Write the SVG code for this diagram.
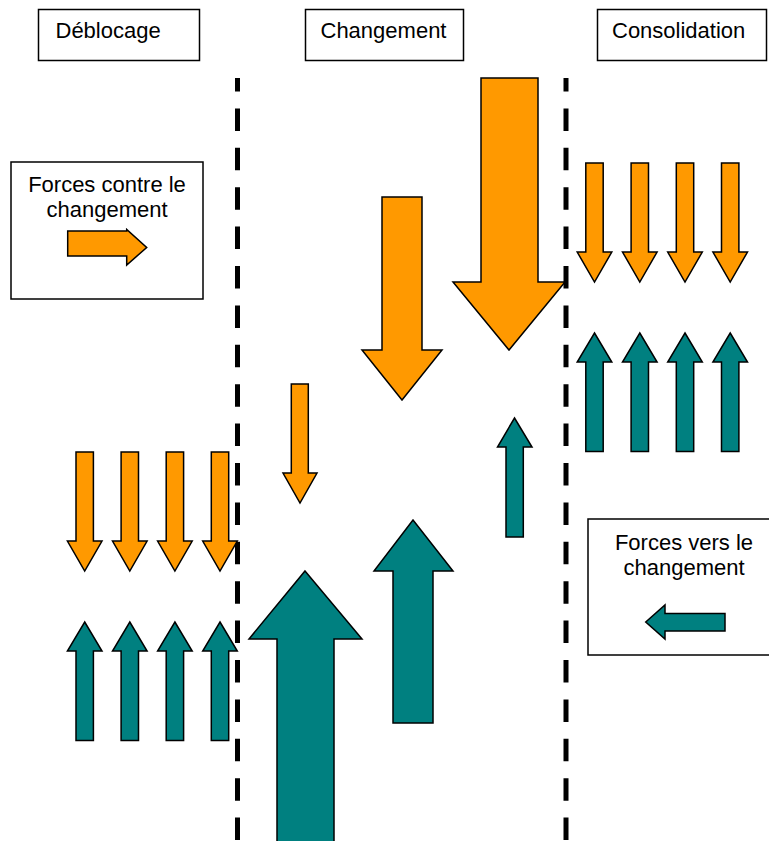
<svg xmlns="http://www.w3.org/2000/svg" xmlns:xlink="http://www.w3.org/1999/xlink" width="769" height="841" viewBox="0 0 769 841">
  <style>
    .box { fill: #ffffff; stroke: #000000; stroke-width: 1.5; }
    .lbl { font-family: "Liberation Sans", Arial, sans-serif; font-size: 22px; fill: #000000; }
    .mid { text-anchor: middle; }
    .against { fill: #FF9900; stroke: #000000; stroke-width: 1.5; stroke-linejoin: miter; }
    .toward { fill: #008080; stroke: #000000; stroke-width: 1.5; stroke-linejoin: miter; }
    .phase { stroke: #000000; stroke-width: 5; stroke-dasharray: 22.5 16.9; stroke-dashoffset: 9; fill: none; }
  </style>
  <defs>
    <!-- small block arrows, origin at the top centre -->
    <path id="down-s" d="M-8.7,0 H8.7 V89 H17.3 L0,119 L-17.3,89 H-8.7 Z"/>
    <path id="up-s" d="M0,0 L17.3,29 H8.7 V118.5 H-8.7 V29 H-17.3 Z"/>
  </defs>

  <rect width="769" height="841" fill="#ffffff"/>

  <!-- phase headers -->
  <g id="deblocage">
    <rect class="box" x="38.5" y="9.5" width="161" height="51"/>
    <text class="lbl" x="55.5" y="38">Déblocage</text>
  </g>
  <g id="changement">
    <rect class="box" x="305.5" y="9.5" width="158" height="51"/>
    <text class="lbl" x="320.5" y="38">Changement</text>
  </g>
  <g id="consolidation">
    <rect class="box" x="597.5" y="9.5" width="169" height="51"/>
    <text class="lbl" x="612" y="38">Consolidation</text>
  </g>

  <!-- phase separators -->
  <g id="separators">
    <line class="phase" x1="237.5" y1="78" x2="237.5" y2="841"/>
    <line class="phase" x1="566" y1="78" x2="566" y2="841"/>
  </g>

  <!-- legends -->
  <g id="legend-against">
    <rect class="box" x="11" y="162" width="192" height="137"/>
    <text class="lbl mid" x="107" y="192">Forces contre le</text>
    <text class="lbl mid" x="107" y="217">changement</text>
    <path class="against" d="M67.7,231 H126.7 V229.5 L146.7,247.5 L126.7,265 V256 H67.7 Z"/>
  </g>
  <g id="legend-toward">
    <rect class="box" x="588" y="519" width="190" height="136"/>
    <text class="lbl mid" x="684" y="550">Forces vers le</text>
    <text class="lbl mid" x="684" y="575">changement</text>
    <path class="toward" d="M645.7,622 L665,605 V613.5 H725 V631 H665 V639 Z"/>
  </g>

  <!-- déblocage: balanced forces -->
  <g id="unfreeze-forces">
    <use href="#down-s" class="against" x="84.7" y="452"/>
    <use href="#down-s" class="against" x="129.8" y="452"/>
    <use href="#down-s" class="against" x="174.9" y="452"/>
    <use href="#down-s" class="against" x="220" y="452"/>
    <use href="#up-s" class="toward" x="84.7" y="622"/>
    <use href="#up-s" class="toward" x="129.8" y="622"/>
    <use href="#up-s" class="toward" x="174.9" y="622"/>
    <use href="#up-s" class="toward" x="220" y="622"/>
  </g>

  <!-- changement: forces of varying strength -->
  <g id="change-forces">
    <path class="against" d="M481,78 H538 V282 H565 L509,350 L453,282 H481 Z"/>
    <path class="against" d="M382,197 H422 V350 H442 L402,400 L362,350 H382 Z"/>
    <path class="against" d="M291.3,384 H308.3 V473 H317 L300,503 L283,473 H291.3 Z"/>
    <path class="toward" d="M305,571 L362,639 H334 V845 H277 V639 H249 Z"/>
    <path class="toward" d="M413,520 L453,571 H433 V723 H393 V571 H374 Z"/>
    <path class="toward" d="M514.5,418 L532,447 H523.3 V537 H506 V447 H497.5 Z"/>
  </g>

  <!-- consolidation: new balance -->
  <g id="refreeze-forces">
    <use href="#down-s" class="against" x="594.5" y="163"/>
    <use href="#down-s" class="against" x="639.8" y="163"/>
    <use href="#down-s" class="against" x="685" y="163"/>
    <use href="#down-s" class="against" x="730.2" y="163"/>
    <use href="#up-s" class="toward" x="594.5" y="333"/>
    <use href="#up-s" class="toward" x="639.8" y="333"/>
    <use href="#up-s" class="toward" x="685" y="333"/>
    <use href="#up-s" class="toward" x="730.2" y="333"/>
  </g>
</svg>
